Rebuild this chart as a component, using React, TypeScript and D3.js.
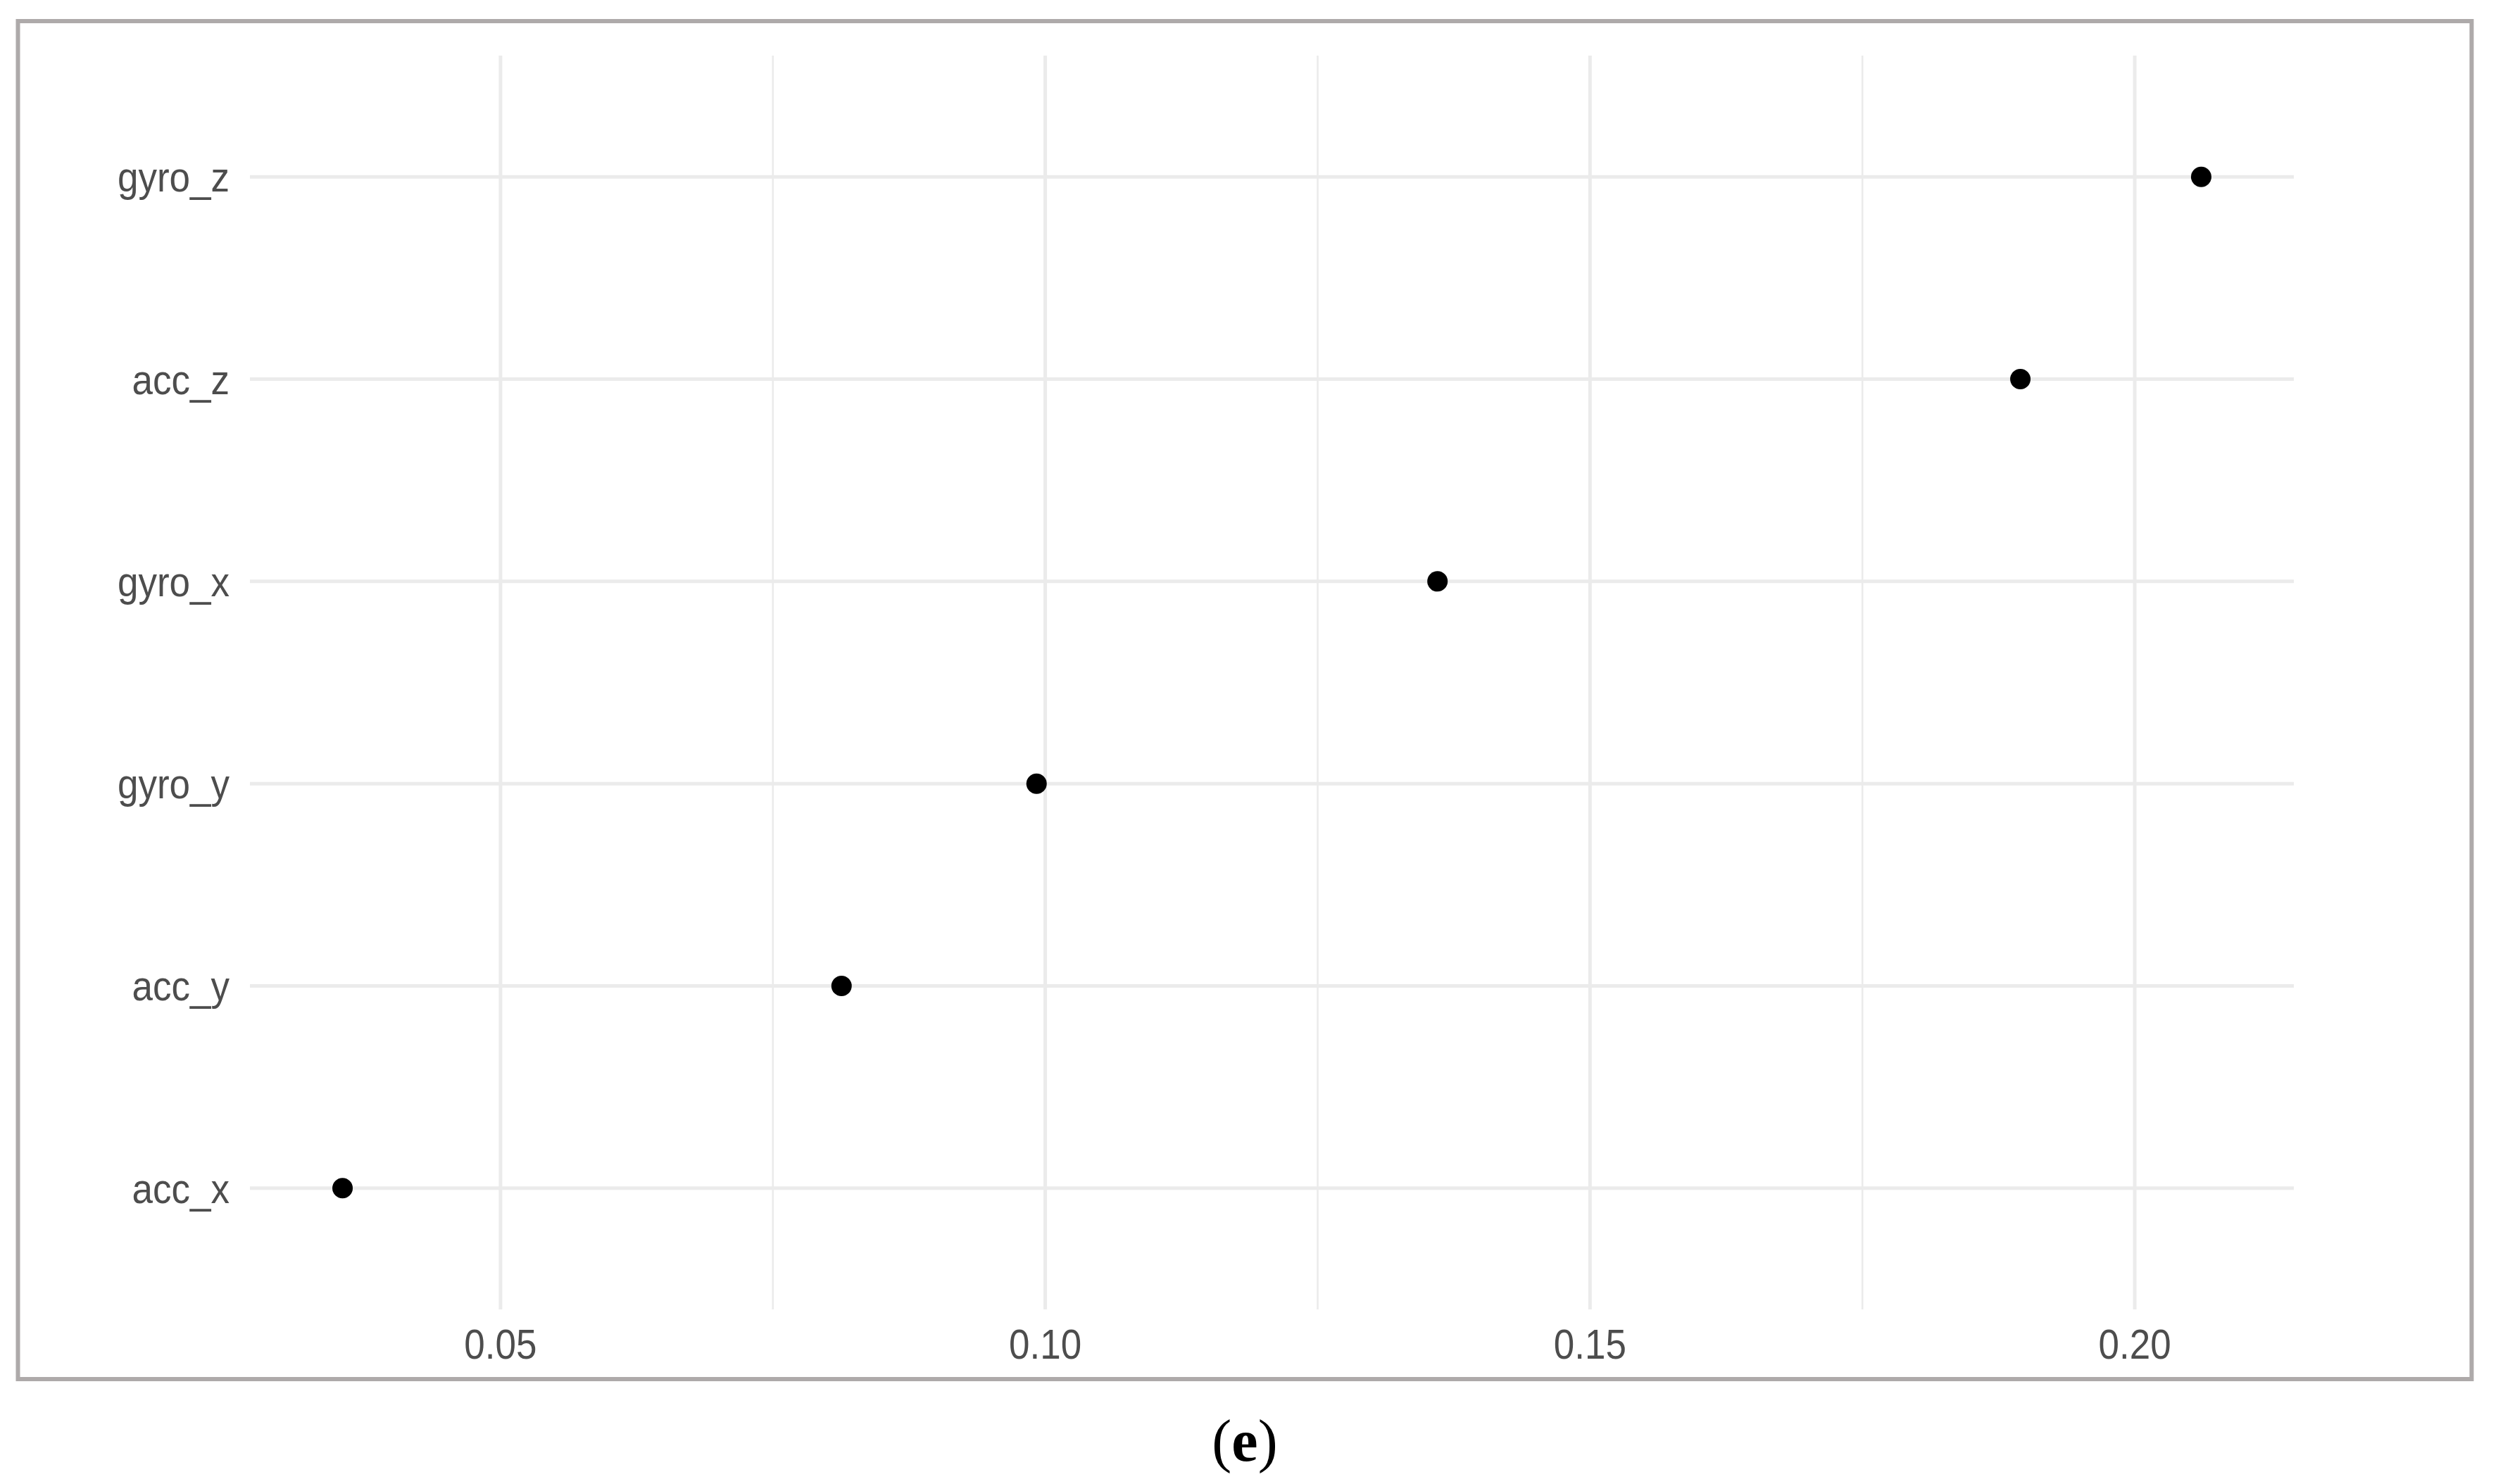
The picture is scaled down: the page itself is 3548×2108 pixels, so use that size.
import React from "react";
import * as d3 from "d3";

const categories = ["gyro_z", "acc_z", "gyro_x", "gyro_y", "acc_y", "acc_x"];
const values = [0.2061, 0.1895, 0.136, 0.0992, 0.0813, 0.0355];
const majorTicks = [0.05, 0.1, 0.15, 0.2];
const minorTicks = [0.075, 0.125, 0.175];

const W = 3548;
const H = 2108;

export default function App() {
  const x = d3.scaleLinear().domain([0.027, 0.2146]).range([355, 3258]);
  const y = d3.scalePoint<string>().domain(categories).range([79, 1860]).padding(0.6);
  const [x0, x1] = x.range();
  const [y0, y1] = y.range();
  const fmt = d3.format(".2f");
  const font = "'Liberation Sans', Arial, Helvetica, sans-serif";
  const sy = 1.1;
  return (
    <svg
      width={W}
      height={H}
      viewBox={`0 0 ${W} ${H}`}
      style={{ position: "absolute", left: 0, top: 0, background: "#ffffff" }}
    >
      <rect x={0} y={0} width={W} height={H} fill="#ffffff" />
      <rect x={25.5} y={30} width={3485} height={1929} fill="#ffffff" stroke="#aeaaaa" strokeWidth={6} />
      {minorTicks.map((t) => (
        <line key={"mi" + t} x1={x(t)} x2={x(t)} y1={y0} y2={y1} stroke="#ebebeb" strokeWidth={2.6} />
      ))}
      {majorTicks.map((t) => (
        <line key={"ma" + t} x1={x(t)} x2={x(t)} y1={y0} y2={y1} stroke="#ebebeb" strokeWidth={5} />
      ))}
      {categories.map((c) => (
        <line key={"h" + c} x1={x0} x2={x1} y1={y(c)} y2={y(c)} stroke="#ebebeb" strokeWidth={5} />
      ))}
      {categories.map((c) => (
        <g key={"l" + c} transform={`translate(326,${(y(c) as number) + 21}) scale(1,${sy})`}>
          <text x={0} y={0} textAnchor="end" fontFamily={font} fontSize={53} fill="#4d4d4d">
            {c}
          </text>
        </g>
      ))}
      {majorTicks.map((t) => (
        <g key={"t" + t} transform={`translate(${x(t)},1930) scale(1,${sy})`}>
          <text x={0} y={0} textAnchor="middle" fontFamily={font} fontSize={53} fill="#4d4d4d">
            {fmt(t)}
          </text>
        </g>
      ))}
      {categories.map((c, i) => (
        <circle key={"p" + c} cx={x(values[i])} cy={y(c)} r={14.5} fill="#000000" />
      ))}
      <text
        x={1768}
        y={2075}
        textAnchor="middle"
        fontFamily="'Liberation Serif', 'Times New Roman', serif"
        fontSize={84}
        fill="#000000"
      >
        (<tspan fontWeight="bold">e</tspan>)
      </text>
    </svg>
  );
}
